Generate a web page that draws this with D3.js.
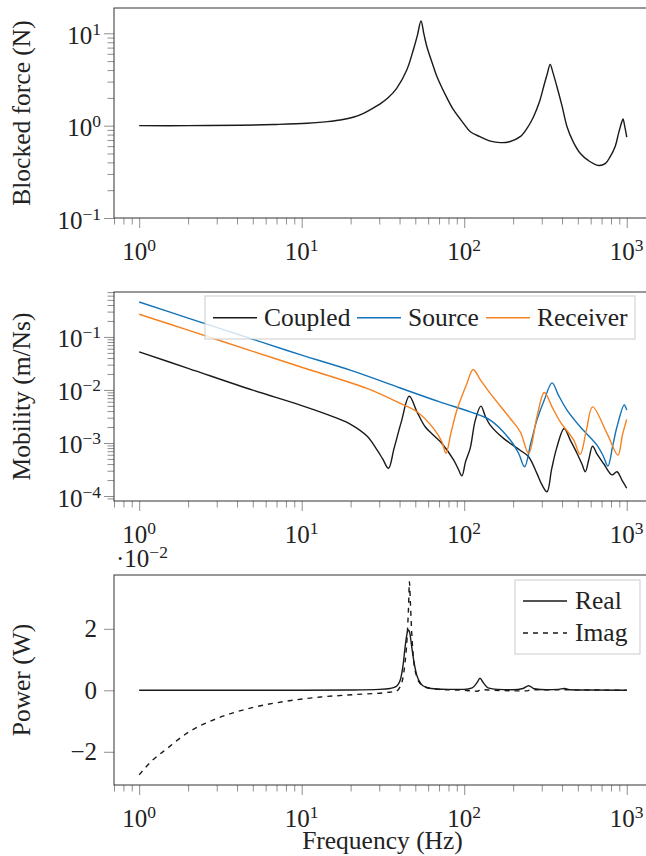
<!DOCTYPE html>
<html>
<head>
<meta charset="utf-8">
<script src="https://cdn.jsdelivr.net/npm/d3@7"></script>
<style>
  body { margin: 0; background: #fff; }
  svg { font-family: "Liberation Serif", "DejaVu Serif", serif; }
  .tick line { stroke: #8f8f8f; }
</style>
</head>
<body>
<script>
// ---- data ----
const forceFreq = [1, 2, 4.2, 7, 10.8, 14, 17.3, 21, 24, 27, 30.4, 34, 38.5, 44.3, 48.6, 51.5, 54.2, 56.5, 59, 64.7, 68, 78.3, 86, 99, 109, 125, 145, 167, 190, 221, 245, 267, 290, 308, 325, 338, 350, 372, 400, 429, 470, 517, 580, 671, 740, 791, 850, 891, 925, 948, 970, 1000];
const force = [1.0, 1.0, 1.01, 1.03, 1.06, 1.1, 1.15, 1.24, 1.36, 1.52, 1.72, 2.0, 2.55, 4.0, 6.6, 9.5, 13.6, 9.8, 7.1, 4.34, 3.39, 2.0, 1.48, 1.06, 0.86, 0.76, 0.68, 0.655, 0.67, 0.76, 0.95, 1.25, 1.8, 2.64, 3.7, 4.61, 3.85, 2.64, 1.63, 0.975, 0.66, 0.503, 0.42, 0.37, 0.39, 0.462, 0.6, 0.83, 1.05, 1.18, 1.0, 0.75];

const coupledFreq = [1, 2, 5, 9.8, 15.7, 20, 25.2, 29, 31.5, 34.2, 37, 41, 45.9, 51.2, 57.5, 65, 72.9, 86, 92, 96.8, 102, 108.8, 117, 126.7, 135, 144.5, 174.5, 221, 249, 280, 300, 323, 345, 370, 412, 450, 494, 530, 556, 585, 616, 660, 720, 811, 871, 934, 1000];
const coupled = [0.0523, 0.0256, 0.0099, 0.00518, 0.00311, 0.00225, 0.00135, 7.5e-4, 5.0e-4, 3.33e-4, 7.9e-4, 2.5e-3, 7.6e-3, 3.87e-3, 2.02e-3, 1.38e-3, 9.8e-4, 4.8e-4, 3.2e-4, 2.4e-4, 4.5e-4, 7.9e-4, 2.7e-3, 4.95e-3, 3.16e-3, 2.17e-3, 1.22e-3, 7.3e-4, 5.5e-4, 2.67e-4, 1.66e-4, 1.2e-4, 3.2e-4, 7.9e-4, 1.88e-3, 1.12e-3, 6.4e-4, 4.0e-4, 2.87e-4, 5.0e-4, 8.7e-4, 6.0e-4, 4.1e-4, 2.5e-4, 2.87e-4, 2.0e-4, 1.4e-4];

const sourceFreq = [1, 2, 5, 10, 19.9, 40, 70, 108.8, 144.5, 192, 216, 235, 257, 280, 310, 347, 380, 429, 517, 656, 720, 766, 820, 871, 965, 1000];
const source = [0.456, 0.226, 0.0905, 0.0452, 0.0236, 0.011, 0.006, 0.00387, 0.0027, 0.00114, 6.4e-4, 3.56e-4, 1.0e-3, 2.7e-3, 6.3e-3, 1.36e-2, 8.0e-3, 4.17e-3, 2.02e-3, 9.1e-4, 5.5e-4, 3.67e-4, 8.9e-4, 2.02e-3, 5.2e-3, 4.17e-3];

const receiverFreq = [1, 2, 5, 10, 25.2, 40.4, 51.2, 64.7, 72.9, 77.2, 83, 90.2, 103.9, 113.5, 126, 144.5, 192, 221, 249, 280, 311, 347, 390, 471, 517, 565, 616, 756, 883, 940, 1000];
const receiver = [0.268, 0.134, 0.0535, 0.0268, 0.01067, 5.57e-3, 3.87e-3, 1.88e-3, 1.05e-3, 6.4e-4, 1.58e-3, 4.18e-3, 1.32e-2, 2.43e-2, 1.53e-2, 8.6e-3, 2.9e-3, 1.63e-3, 6.4e-4, 3.1e-3, 8.97e-3, 4.8e-3, 2.5e-3, 1.14e-3, 6.1e-4, 1.78e-3, 4.8e-3, 1.52e-3, 5.9e-4, 1.4e-3, 2.78e-3];

const realFreq = [1, 10, 20, 30, 35, 38, 40.5, 42, 43.5, 44.5, 45.4, 46.3, 47.3, 48.8, 51, 54, 58, 65, 80, 100, 112, 120, 125, 131, 140, 160, 200, 230, 249, 270, 320, 380, 414, 450, 600, 1000];
const realPower = [0, 0, 0.0001, 0.0003, 0.0006, 0.0012, 0.0035, 0.008, 0.015, 0.0185, 0.0196, 0.0185, 0.015, 0.010, 0.005, 0.0022, 0.001, 0.0005, 0.0003, 0.0003, 0.0008, 0.0025, 0.0039, 0.0025, 0.0008, 0.0003, 0.0002, 0.0006, 0.0015, 0.0005, 0.0002, 0.0003, 0.0006, 0.0002, 0.0001, 0];

const imagFreq = [1, 1.2, 1.48, 1.96, 3.0, 4.82, 7.7, 13, 20.8, 33.4, 38, 41, 43, 44.5, 45.5, 46, 46.6, 47.5, 48.8, 51, 54, 58, 70, 100, 120, 128, 150, 240, 260, 1000];
const imagPower = [-0.0275, -0.0229, -0.019, -0.014, -0.0092, -0.0058, -0.0037, -0.0022, -0.0014, -0.0007, -0.0003, 0.002, 0.008, 0.017, 0.028, 0.0353, 0.029, 0.019, 0.010, 0.0045, 0.002, 0.001, 0.0003, 0, -0.0003, 0.0002, 0, -0.0002, 0.0002, 0];

const xMajors = [1, 10, 100, 1000];

// ---- layout ----
const W = 646, H = 856;
const left = 114, right = 651;
const panels = [
  { top: 8, bottom: 218 },
  { top: 292, bottom: 501 },
  { top: 575, bottom: 785 }
];

const svg = d3.select("body").append("svg").attr("width", W).attr("height", H);

const x = d3.scaleLog().domain([0.7, 1410]).range([left, right]);

function minorsFor(domain) {
  const out = [];
  for (let e = -6; e <= 4; e++) {
    for (let k = 2; k <= 9; k++) {
      const v = k * Math.pow(10, e);
      if (v >= domain[0] && v <= domain[1]) out.push(v);
    }
  }
  return out;
}

function supLabel(text, exp) {
  text.text("10");
  text.append("tspan").attr("dy", -9).attr("font-size", 17.5)
    .text(exp < 0 ? "\u2212" + (-exp) : String(exp));
}

function drawXAxis(p) {
  const g = svg.append("g").attr("transform", `translate(0,${p.bottom})`);
  g.append("g").call(d3.axisBottom(x).tickValues(minorsFor(x.domain())).tickSize(6.5).tickFormat(""))
    .call(s => s.select(".domain").remove());
  g.append("g").call(d3.axisBottom(x).tickValues(xMajors).tickSize(10).tickFormat(""))
    .call(s => s.select(".domain").remove());
  xMajors.forEach(v => {
    const t = g.append("text").attr("x", x(v)).attr("y", 42)
      .attr("text-anchor", "middle").attr("font-size", 25).attr("fill", "#222");
    supLabel(t, Math.round(Math.log10(v)));
  });
}

function drawLogY(y, majors) {
  const g = svg.append("g").attr("transform", `translate(${left},0)`);
  g.append("g").call(d3.axisLeft(y).tickValues(minorsFor(y.domain())).tickSize(6.5).tickFormat(""))
    .call(s => s.select(".domain").remove());
  g.append("g").call(d3.axisLeft(y).tickValues(majors).tickSize(10).tickFormat(""))
    .call(s => s.select(".domain").remove());
  majors.forEach(v => {
    const t = svg.append("text").attr("x", 101).attr("y", y(v) + 10.5)
      .attr("text-anchor", "end").attr("font-size", 25).attr("fill", "#222");
    supLabel(t, Math.round(Math.log10(v)));
  });
}

function frame(p) {
  svg.append("rect").attr("x", left).attr("y", p.top)
    .attr("width", right - left).attr("height", p.bottom - p.top)
    .attr("fill", "none").attr("stroke", "#333").attr("stroke-width", 1);
}

function yTitle(p, label) {
  svg.append("text")
    .attr("transform", `translate(30,${(p.top + p.bottom) / 2}) rotate(-90)`)
    .attr("text-anchor", "middle").attr("font-size", 25.5).attr("fill", "#222")
    .text(label);
}

function drawLine(xs, ys, y, color, dash, curve) {
  const pts = xs.map((f, i) => [f, ys[i]]);
  const line = d3.line().x(d => x(d[0])).y(d => y(d[1]))
    .curve(curve || d3.curveCatmullRom.alpha(0.5));
  svg.append("path").datum(pts).attr("d", line)
    .attr("fill", "none").attr("stroke", color).attr("stroke-width", 1.4)
    .attr("stroke-dasharray", dash || null).attr("stroke-linejoin", "round");
}

// ---- panel 1: blocked force ----
const p1 = panels[0];
const y1 = d3.scaleLog().domain([0.1, 18.8]).range([p1.bottom, p1.top]);
drawXAxis(p1);
drawLogY(y1, [0.1, 1, 10]);
drawLine(forceFreq, force, y1, "#1a1a1a");
frame(p1);
yTitle(p1, "Blocked force (N)");

// ---- panel 2: mobility ----
const p2 = panels[1];
const y2 = d3.scaleLog().domain([8.05e-5, 0.703]).range([p2.bottom, p2.top]);
drawXAxis(p2);
drawLogY(y2, [1e-4, 1e-3, 1e-2, 1e-1]);
drawLine(coupledFreq, coupled, y2, "#1a1a1a");
drawLine(sourceFreq, source, y2, "#1273b8");
drawLine(receiverFreq, receiver, y2, "#f58220");
frame(p2);
yTitle(p2, "Mobility (m/Ns)");

const legend2 = [
  { name: "Coupled", color: "#1a1a1a", x0: 213 },
  { name: "Source", color: "#1273b8", x0: 357 },
  { name: "Receiver", color: "#f58220", x0: 486 }
];
svg.append("rect").attr("x", 205).attr("y", 296).attr("width", 430).attr("height", 43)
  .attr("fill", "#fff").attr("fill-opacity", 0.8).attr("stroke", "#cccccc");
legend2.forEach(d => {
  svg.append("line").attr("x1", d.x0).attr("x2", d.x0 + 44).attr("y1", 317.7).attr("y2", 317.7)
    .attr("stroke", d.color).attr("stroke-width", 1.4);
  svg.append("text").attr("x", d.x0 + 51).attr("y", 325.5).attr("font-size", 25.5)
    .attr("fill", "#222").text(d.name);
});

// ---- panel 3: power ----
const p3 = panels[2];
const y3 = d3.scaleLinear().domain([-0.0308, 0.0375]).range([p3.bottom, p3.top]);
drawXAxis(p3);
const g3 = svg.append("g").attr("transform", `translate(${left},0)`);
g3.call(d3.axisLeft(y3).tickValues([-0.02, 0, 0.02]).tickSize(10).tickFormat(""))
  .call(s => s.select(".domain").remove());
[-0.02, 0, 0.02].forEach(v => {
  svg.append("text").attr("x", 97).attr("y", y3(v) + 8.5)
    .attr("text-anchor", "end").attr("font-size", 25).attr("fill", "#222")
    .text(v < 0 ? "\u2212" + Math.round(-v * 100) : String(Math.round(v * 100)));
});
const sc = svg.append("text").attr("x", 116).attr("y", 567).attr("font-size", 25).attr("fill", "#222");
sc.text("\u00b710");
sc.append("tspan").attr("dy", -9).attr("font-size", 17.5).text("\u22122");

drawLine(realFreq, realPower, y3, "#1a1a1a", null, d3.curveMonotoneX);
drawLine(imagFreq, imagPower, y3, "#1a1a1a", "5,5", d3.curveMonotoneX);
frame(p3);
yTitle(p3, "Power (W)");

svg.append("rect").attr("x", 515).attr("y", 580).attr("width", 125).attr("height", 74)
  .attr("fill", "#fff").attr("fill-opacity", 0.8).attr("stroke", "#cccccc");
[{ name: "Real", y: 601, dash: null }, { name: "Imag", y: 633, dash: "5,5" }].forEach(d => {
  svg.append("line").attr("x1", 523).attr("x2", 567).attr("y1", d.y).attr("y2", d.y)
    .attr("stroke", "#1a1a1a").attr("stroke-width", 1.4).attr("stroke-dasharray", d.dash);
  svg.append("text").attr("x", 575).attr("y", d.y + 7.5).attr("font-size", 25.5)
    .attr("fill", "#222").text(d.name);
});

svg.append("text").attr("x", (left + right) / 2).attr("y", 849)
  .attr("text-anchor", "middle").attr("font-size", 25.5).attr("fill", "#222")
  .text("Frequency (Hz)");
</script>
</body>
</html>
